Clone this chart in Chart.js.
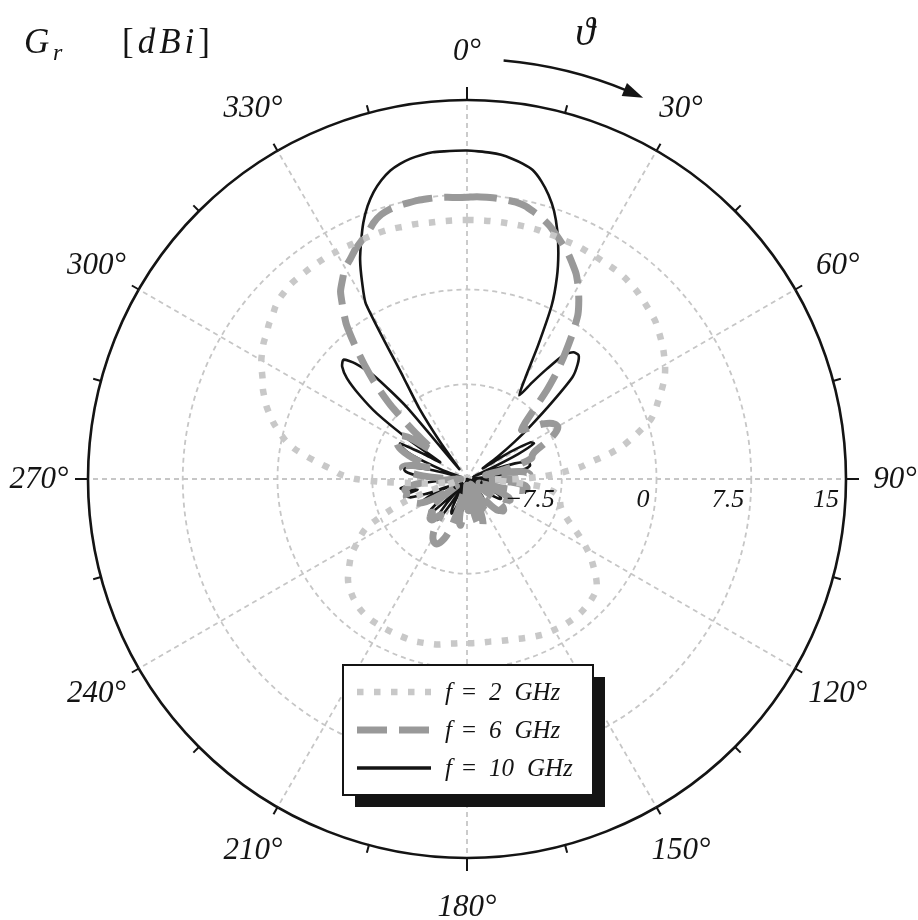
<!DOCTYPE html>
<html>
<head>
<meta charset="utf-8">
<title>Realized gain pattern</title>
<script src="https://cdn.jsdelivr.net/npm/chart.js@4.4.1/dist/chart.umd.min.js"></script>
<style>
  html, body { margin: 0; padding: 0; background: #ffffff; }
  #wrap { width: 918px; height: 920px; }
</style>
</head>
<body>
<div id="wrap"><canvas id="c" width="918" height="920"></canvas></div>
<script>
// Sampling of the pattern: one value every 2 degrees, clockwise from 0 at top
const STEP_DEG = 2;
const angleDeg = Array.from({ length: 180 }, (_, i) => i * STEP_DEG);

// Frequencies shown in the legend
const freqsGHz = [2, 6, 10];

// Realized gain [dBi], rows of 15 samples = 30 degrees each
const gain2GHz = [
  5.5, 5.5, 5.5, 5.5, 5.5, 5.5, 5.5, 5.5, 5.5, 5.45, 5.45, 5.4, 5.4, 5.4, 5.35,
  5.35, 5.3, 5.3, 5.3, 5.25, 5.15, 5.05, 4.9, 4.75, 4.6, 4.45, 4.2, 3.95, 3.7, 3.4,
  3.1, 2.75, 2.3, 1.8, 1.3, 0.85, 0.3, -0.6, -1.5, -2.4, -3.6, -5.0, -6.0, -7.4, -9.0,
  -11.0, -13.0, -11.5, -9.0, -8.2, -7.7, -7.5, -7.4, -7.3, -7.1, -6.8, -6.4, -5.9, -5.3, -4.7,
  -4.1, -3.5, -3.0, -2.5, -2.0, -1.6, -1.4, -1.3, -1.2, -1.15, -1.1, -1.1, -1.1, -1.1, -1.15,
  -1.2, -1.25, -1.3, -1.4, -1.5, -1.6, -1.7, -1.8, -1.85, -1.9, -1.95, -2.0, -2.0, -2.0, -2.0,
  -2.0, -2.0, -1.95, -1.9, -1.8, -1.7, -1.65, -1.6, -1.55, -1.5, -1.5, -1.5, -1.5, -1.5, -1.5,
  -1.5, -1.5, -1.5, -1.55, -1.6, -1.7, -1.85, -2.0, -2.2, -2.4, -2.7, -3.1, -3.5, -3.9, -4.4,
  -5.0, -5.5, -6.1, -7.3, -8.5, -9.8, -11.5, -13.0, -14.0, -14.0, -13.5, -12.5, -11.6, -10.5, -8.3,
  -6.2, -5.0, -4.3, -3.3, -2.2, -1.1, -0.3, 0.3, 0.9, 1.4, 1.9, 2.3, 2.7, 3.0, 3.4,
  3.8, 4.1, 4.4, 4.6, 4.9, 5.1, 5.4, 5.6, 5.7, 5.8, 5.8, 5.8, 5.8, 5.8, 5.8,
  5.75, 5.75, 5.7, 5.7, 5.7, 5.7, 5.7, 5.65, 5.6, 5.6, 5.55, 5.5, 5.5, 5.5, 5.5
];

const gain6GHz = [
  7.3, 7.35, 7.35, 7.35, 7.3, 7.25, 7.1, 6.8, 6.5, 6.1, 5.6, 5.1, 4.6, 4.0, 3.4,
  2.6, 1.7, 0.7, -0.8, -2.4, -3.9, -5.6, -7.4, -8.6, -9.2, -8.8, -8.2, -7.6, -7.1, -6.8,
  -6.7, -7.0, -7.6, -8.5, -9.2, -9.5, -9.6, -10.5, -12.0, -13.5, -12.0, -10.8, -10.2, -10.0, -10.3,
  -11.5, -13.0, -11.5, -10.5, -10.2, -10.2, -10.6, -11.8, -13.0, -14.0, -13.0, -12.0, -11.4, -11.2, -11.5,
  -12.5, -13.8, -13.0, -12.0, -11.4, -11.2, -11.2, -11.4, -11.6, -12.2, -13.5, -14.5, -13.5, -12.5, -12.0,
  -12.2, -13.0, -14.5, -13.5, -12.0, -11.3, -11.0, -11.0, -11.2, -12.0, -13.5, -14.5, -13.5, -12.5, -12.5,
  -13.0, -14.5, -13.5, -12.0, -11.3, -11.5, -12.5, -14.0, -12.5, -11.0, -10.2, -9.7, -9.4, -9.3, -9.4,
  -9.6, -10.0, -10.6, -11.5, -11.2, -10.8, -10.7, -10.8, -11.2, -11.0, -10.9, -11.3, -12.5, -14.0, -13.0,
  -11.8, -11.0, -10.6, -10.4, -10.2, -10.1, -10.0, -10.0, -10.1, -10.1, -10.0, -10.2, -10.8, -12.0, -13.5,
  -14.5, -13.0, -11.5, -10.5, -10.0, -9.8, -10.0, -10.6, -11.5, -12.0, -11.0, -10.0, -9.3, -8.9, -8.7,
  -8.6, -8.6, -8.9, -9.6, -11.0, -11.5, -9.2, -6.6, -4.6, -2.9, -1.2, 0.5, 1.7, 2.9, 3.6,
  4.3, 4.7, 5.2, 5.6, 6.0, 6.6, 7.0, 7.2, 7.3, 7.35, 7.4, 7.4, 7.4, 7.35, 7.3
];

const gain10GHz = [
  11.0, 10.95, 10.9, 10.8, 10.6, 10.35, 10.0, 9.3, 8.4, 7.3, 5.9, 4.3, 2.5, 0.3, -3.0,
  -5.8, -7.2, -5.8, -4.2, -2.5, -1.9, -1.8, -2.4, -3.4, -6.0, -8.3, -10.2, -12.0, -13.5, -11.0,
  -9.2, -9.0, -10.5, -13.0, -14.5, -13.0, -11.0, -10.2, -9.9, -9.9, -10.3, -11.5, -13.5, -14.5, -13.0,
  -12.0, -11.8, -12.5, -14.0, -14.5, -13.5, -12.8, -12.5, -13.0, -14.5, -15.0, -14.0, -13.0, -12.3, -12.0,
  -11.9, -12.1, -13.0, -14.5, -14.5, -13.7, -14.5, -15.0, -14.0, -13.2, -13.0, -13.5, -14.8, -14.5, -13.5,
  -13.0, -13.3, -14.5, -15.0, -14.0, -13.2, -13.0, -13.5, -14.8, -14.5, -13.5, -13.0, -13.2, -14.2, -15.0,
  -14.5, -13.8, -13.2, -12.8, -12.5, -12.4, -12.6, -13.5, -14.8, -14.0, -13.0, -12.3, -12.0, -12.2, -13.0,
  -14.5, -13.5, -11.8, -11.0, -11.2, -12.5, -14.5, -13.0, -11.5, -11.0, -11.3, -12.5, -14.5, -14.0, -12.5,
  -11.5, -11.0, -11.2, -12.0, -13.5, -11.5, -10.3, -10.0, -10.2, -11.0, -10.0, -9.7, -10.5, -12.5, -14.5,
  -13.5, -12.0, -11.0, -10.3, -10.0, -10.0, -10.5, -12.0, -14.0, -14.5, -13.0, -11.5, -10.0, -9.3, -9.0,
  -11.0, -12.5, -9.5, -6.2, -4.2, -2.6, -1.7, -1.4, -2.3, -4.0, -7.5, -14.0, -11.5, -8.2, -5.5,
  1.0, 2.7, 4.3, 5.6, 6.9, 8.0, 8.9, 9.6, 10.15, 10.5, 10.75, 10.9, 11.0, 11.0, 11.0
];

// Radial axis: value range and the labelled rings
const R_MIN = -15;
const R_MAX = 15;
const radialTicks = [-7.5, 0, 7.5, 15];
// Angular labels and outer-rim tick marks
const angleLabelDeg = [0, 30, 60, 90, 120, 150, 180, 210, 240, 270, 300, 330];
const rimTickDeg = Array.from({ length: 24 }, (_, i) => i * 15);

const SERIF = '"Liberation Serif", "DejaVu Serif", serif';
const GRID_GREY = '#c6c6c6';
const INK = '#141414';

const seriesStyles = [
  { color: '#c8c8c8', width: 6.5, dash: [6.5, 10.5], tension: 0.3 },
  { color: '#999999', width: 7, dash: [30, 12], tension: 0.2 },
  { color: INK, width: 2.6, dash: [], tension: 0.2 }
];
const seriesData = [gain2GHz, gain6GHz, gain10GHz];

const isOuterRing = (ctx) => ctx.tick && ctx.tick.value === R_MAX;

function fmtTick(v) {
  return (v < 0 ? '\u2212' : '') + Math.abs(v);
}

// draws a run of [text, font] pieces spread evenly between x0 and x1
function spreadText(ctx, pieces, x0, x1, y) {
  let total = 0;
  const widths = pieces.map(([t, f]) => {
    ctx.font = f;
    const w = ctx.measureText(t).width;
    total += w;
    return w;
  });
  const gap = pieces.length > 1 ? Math.max(0, (x1 - x0 - total) / (pieces.length - 1)) : 0;
  let x = x0;
  pieces.forEach(([t, f], i) => {
    ctx.font = f;
    ctx.fillText(t, x, y);
    x += widths[i] + gap;
  });
}

const decorations = {
  id: 'decorations',
  beforeDatasetsDraw(chart) {
    const { ctx } = chart;
    const s = chart.scales.r;
    const R = s.drawingArea;
    // short outward ticks on the rim, longer at the four cardinal points
    ctx.save();
    ctx.strokeStyle = INK;
    ctx.lineWidth = 2;
    rimTickDeg.forEach((deg) => {
      const len = deg % 90 === 0 ? 13 : 8;
      const p0 = s.getPointPosition(deg / STEP_DEG, R - 1);
      const p1 = s.getPointPosition(deg / STEP_DEG, R + len);
      ctx.beginPath();
      ctx.moveTo(p0.x, p0.y);
      ctx.lineTo(p1.x, p1.y);
      ctx.stroke();
    });
    ctx.restore();
  },
  afterDatasetsDraw(chart) {
    const { ctx } = chart;
    const s = chart.scales.r;
    const R = s.drawingArea;

    ctx.save();
    ctx.fillStyle = INK;

    // angle labels around the rim
    ctx.font = 'italic 31px ' + SERIF;
    ctx.textAlign = 'center';
    ctx.textBaseline = 'middle';
    angleLabelDeg.forEach((deg) => {
      const p = s.getPointPosition(deg / STEP_DEG, R + 49);
      ctx.fillText(deg + '\u00B0', p.x, p.y + 1);
    });

    // radial value labels along the 90 degree direction
    ctx.font = 'italic 26px ' + SERIF;
    ctx.textAlign = 'right';
    radialTicks.forEach((v) => {
      const d = s.getDistanceFromCenterForValue(v);
      ctx.fillText(fmtTick(v), s.xCenter + d - 7, s.yCenter + 21);
    });

    // quantity and unit in the top-left corner
    ctx.textAlign = 'left';
    ctx.textBaseline = 'alphabetic';
    ctx.font = 'italic 35px ' + SERIF;
    ctx.fillText('G', 24, 53);
    ctx.font = 'italic 24px ' + SERIF;
    ctx.fillText('r', 53, 60);
    const roman = '35px ' + SERIF;
    const ital = 'italic 35px ' + SERIF;
    spreadText(ctx, [['[', roman], ['d', ital], ['B', ital], ['i', ital], [']', roman]], 122, 210, 53);

    // direction of the angle: theta symbol and curved arrow
    ctx.font = 'italic 40px ' + SERIF;
    ctx.textAlign = 'center';
    ctx.fillText('\u03D1', 585, 45);

    const arcR = R + 41;
    const a0 = -Math.PI / 2 + (5 * Math.PI) / 180;
    const a1 = -Math.PI / 2 + (22 * Math.PI) / 180;
    const aTip = -Math.PI / 2 + (24.8 * Math.PI) / 180;
    ctx.strokeStyle = INK;
    ctx.lineWidth = 2.5;
    ctx.beginPath();
    ctx.arc(s.xCenter, s.yCenter, arcR, a0, a1 + 0.01);
    ctx.stroke();
    const tip = { x: s.xCenter + Math.cos(aTip) * arcR, y: s.yCenter + Math.sin(aTip) * arcR };
    const bx = s.xCenter + Math.cos(a1) * arcR;
    const by = s.yCenter + Math.sin(a1) * arcR;
    const nx = Math.cos(a1), ny = Math.sin(a1);
    ctx.beginPath();
    ctx.moveTo(tip.x, tip.y);
    ctx.lineTo(bx + nx * 7, by + ny * 7);
    ctx.lineTo(bx - nx * 7, by - ny * 7);
    ctx.closePath();
    ctx.fill();
    ctx.restore();
  },
  afterDraw(chart) {
    const { ctx } = chart;
    const box = { x: 343, y: 665, w: 250, h: 130 };
    ctx.save();
    // drop shadow, white panel, frame
    ctx.fillStyle = INK;
    ctx.fillRect(box.x + 12, box.y + 12, box.w, box.h);
    ctx.fillStyle = '#ffffff';
    ctx.fillRect(box.x, box.y, box.w, box.h);
    ctx.strokeStyle = INK;
    ctx.lineWidth = 2;
    ctx.strokeRect(box.x, box.y, box.w, box.h);

    chart.data.datasets.forEach((ds, i) => {
      const y = box.y + 27 + i * 38;
      ctx.save();
      ctx.strokeStyle = ds.borderColor;
      ctx.lineWidth = i === 2 ? 3.5 : ds.borderWidth;
      ctx.setLineDash(ds.borderDash || []);
      ctx.lineCap = 'butt';
      ctx.beginPath();
      ctx.moveTo(box.x + 14, y);
      ctx.lineTo(box.x + 88, y);
      ctx.stroke();
      ctx.restore();

      ctx.fillStyle = INK;
      ctx.textBaseline = 'middle';
      ctx.textAlign = 'left';
      ctx.font = 'italic 25px ' + SERIF;
      ctx.fillText('f', box.x + 102, y + 1);
      ctx.font = '25px ' + SERIF;
      ctx.fillText('=', box.x + 119, y + 1);
      ctx.font = 'italic 25px ' + SERIF;
      const num = String(freqsGHz[i]);
      ctx.fillText(num, box.x + 146, y + 1);
      const w = ctx.measureText(num).width;
      ctx.fillText('GHz', box.x + 146 + w + 13, y + 1);
    });
    ctx.restore();
  }
};

new Chart(document.getElementById('c'), {
  type: 'radar',
  data: {
    labels: angleDeg.map((a) => a + '\u00B0'),
    datasets: seriesData.map((data, i) => ({
      label: 'f = ' + freqsGHz[i] + ' GHz',
      data: data,
      borderColor: seriesStyles[i].color,
      borderWidth: seriesStyles[i].width,
      borderDash: seriesStyles[i].dash,
      borderCapStyle: 'butt',
      borderJoinStyle: 'round',
      backgroundColor: 'transparent',
      fill: false,
      pointRadius: 0,
      pointHoverRadius: 0,
      tension: seriesStyles[i].tension
    }))
  },
  options: {
    responsive: false,
    animation: false,
    devicePixelRatio: 1,
    layout: { padding: { left: 88, right: 72, top: 100, bottom: 62 } },
    plugins: {
      legend: { display: false },
      title: { display: false },
      tooltip: { enabled: false }
    },
    scales: {
      r: {
        min: R_MIN,
        max: R_MAX,
        startAngle: 0,
        ticks: { display: false, stepSize: 7.5 },
        pointLabels: { display: false },
        grid: {
          circular: true,
          color: (ctx) => (ctx.index === 0 ? 'transparent' : isOuterRing(ctx) ? INK : GRID_GREY),
          lineWidth: (ctx) => (isOuterRing(ctx) ? 2.6 : 1.8)
        },
        border: {
          dash: (ctx) => (isOuterRing(ctx) ? [] : [5, 4])
        },
        angleLines: {
          color: GRID_GREY,
          lineWidth: (ctx) => ((ctx.index * STEP_DEG) % 30 === 0 ? 1.8 : 0),
          borderDash: [5, 4]
        }
      }
    }
  },
  plugins: [decorations]
});
</script>
</body>
</html>
